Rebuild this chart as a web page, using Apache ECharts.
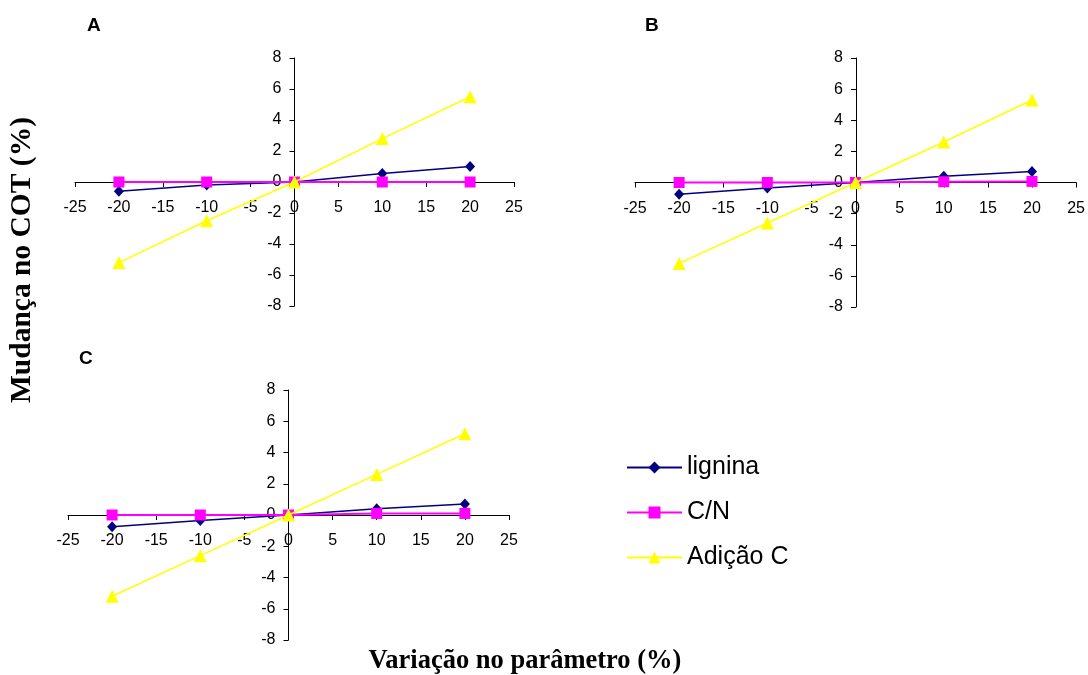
<!DOCTYPE html>
<html>
<head>
<meta charset="utf-8">
<script src="https://cdn.jsdelivr.net/npm/echarts@6/dist/echarts.min.js"></script>
<style>
html,body{margin:0;padding:0;background:#fff;}
#chart{width:1088px;height:675px;}
</style>
</head>
<body>
<div id="chart"></div>
<script>
// ---- data ----
const xValues = [-20, -10, 0, 10, 20];
const seriesNames = ['lignina', 'C/N', 'Adição C'];
const panelLabels = ['A', 'B', 'C'];
const ligninaA = [-0.6, -0.2, 0, 0.55, 1.0];
const cnA      = [0, 0, 0, 0, 0];
const adicaoA  = [-5.2, -2.5, 0, 2.8, 5.5];
const ligninaB = [-0.75, -0.35, 0, 0.4, 0.7];
const cnB      = [0, 0, 0, 0.05, 0.07];
const adicaoB  = [-5.2, -2.6, 0, 2.6, 5.3];
const ligninaC = [-0.75, -0.35, 0, 0.4, 0.7];
const cnC      = [0, 0, 0, 0.1, 0.1];
const adicaoC  = [-5.2, -2.6, 0, 2.6, 5.2];
const xTicks = { min: -25, max: 25, interval: 5 };
const yTicks = { min: -8, max: 8, interval: 2 };
const yTitle = 'Mudança no COT (%)';
const xTitle = 'Variação no parâmetro (%)';

// ---- styling / layout ----
const panels = [
  { grid: { left: 75, top: 58, width: 439, height: 248 }, data: [ligninaA, cnA, adicaoA], label: { x: 95, y: 27 } },
  { grid: { left: 635, top: 58, width: 442, height: 249 }, data: [ligninaB, cnB, adicaoB], label: { x: 653, y: 27 } },
  { grid: { left: 68, top: 390, width: 441, height: 250 }, data: [ligninaC, cnC, adicaoC], label: { x: 87, y: 360 } }
];
const styles = [
  { color: '#000080', symbol: 'diamond', symbolSize: [10, 11], width: 1.5 },
  { color: '#FF00FF', symbol: 'rect', symbolSize: 11, width: 2 },
  { color: '#FFFF00', symbol: 'triangle', symbolSize: 13, width: 1.5 }
];
const sansFont = 'Arial, "Liberation Sans", sans-serif';
const serifFont = '"Times New Roman", "Liberation Serif", serif';

const grids = [], xAxes = [], yAxes = [], series = [], graphics = [];
panels.forEach((p, i) => {
  grids.push(Object.assign({ containLabel: false }, p.grid));
  // axes cross at zero (centre of the symmetric ranges): shift them with offset
  xAxes.push({
    type: 'value', gridIndex: i, min: xTicks.min, max: xTicks.max, interval: xTicks.interval,
    position: 'bottom', offset: -p.grid.height / 2,
    axisLine: { onZero: false, lineStyle: { color: '#000', width: 1 } },
    axisTick: { show: true, inside: false, length: 5, lineStyle: { color: '#000' } },
    axisLabel: { color: '#000', fontSize: 16, fontFamily: sansFont, margin: 18 },
    splitLine: { show: false }
  });
  yAxes.push({
    type: 'value', gridIndex: i, min: yTicks.min, max: yTicks.max, interval: yTicks.interval,
    position: 'left', offset: -p.grid.width / 2,
    axisLine: { onZero: false, lineStyle: { color: '#000', width: 1 } },
    axisTick: { show: true, inside: false, length: 5, lineStyle: { color: '#000' } },
    axisLabel: { color: '#000', fontSize: 16, fontFamily: sansFont, margin: 13 },
    splitLine: { show: false }
  });
  p.data.forEach((vals, k) => {
    const s = styles[k];
    series.push({
      name: seriesNames[k], type: 'line', xAxisIndex: i, yAxisIndex: i,
      data: xValues.map((x, j) => [x, vals[j]]),
      symbol: s.symbol, symbolSize: s.symbolSize, showSymbol: true,
      itemStyle: { color: s.color },
      lineStyle: { color: s.color, width: s.width },
      z: 2 + k
    });
  });
  graphics.push({
    type: 'text', left: p.label.x - 8, top: p.label.y - 11,
    style: { text: panelLabels[i], font: 'bold 19px ' + sansFont, fill: '#000' }
  });
});

graphics.push({
  type: 'text', x: 22, y: 260, rotation: Math.PI / 2,
  style: { text: yTitle, font: 'bold 29.5px ' + serifFont, fill: '#000', align: 'center', verticalAlign: 'middle' }
});
graphics.push({
  type: 'text', x: 525, y: 661,
  style: { text: xTitle, font: 'bold 26.5px ' + serifFont, fill: '#000', align: 'center', verticalAlign: 'middle' }
});

const chart = echarts.init(document.getElementById('chart'), null, { renderer: 'canvas' });
chart.setOption({
  animation: false,
  backgroundColor: '#fff',
  grid: grids,
  xAxis: xAxes,
  yAxis: yAxes,
  legend: {
    orient: 'vertical', left: 621, top: 450,
    data: seriesNames,
    itemWidth: 55, itemHeight: 15, itemGap: 20,
    textStyle: { fontSize: 25, fontFamily: sansFont, color: '#000' }
  },
  graphic: graphics,
  series: series
});
</script>
</body>
</html>
